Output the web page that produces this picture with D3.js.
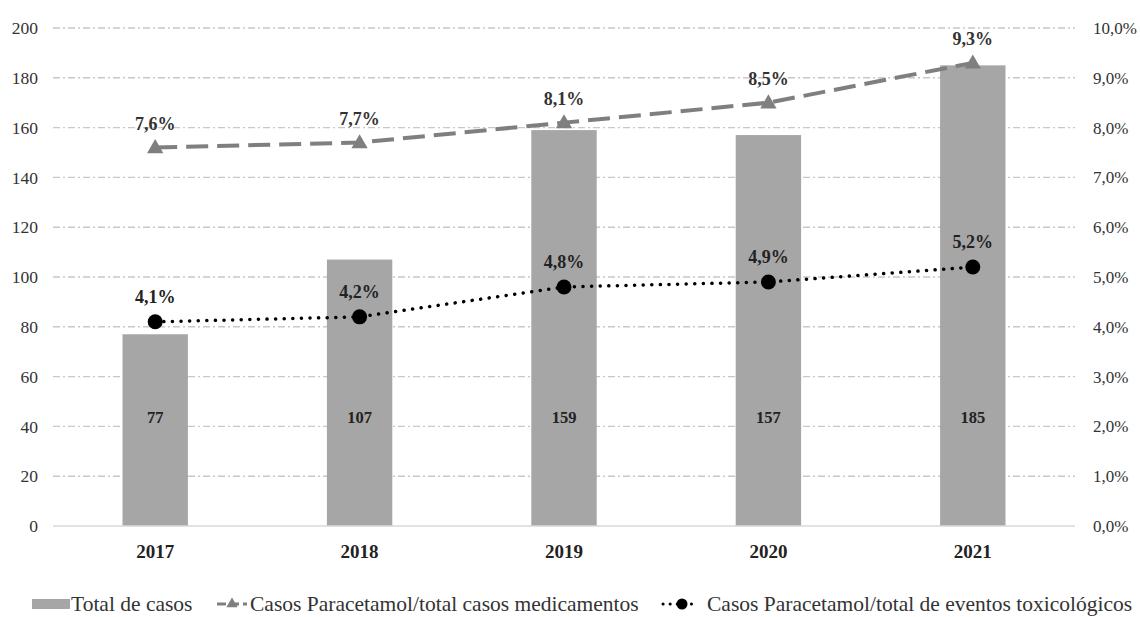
<!DOCTYPE html>
<html>
<head>
<meta charset="utf-8">
<script src="https://cdn.jsdelivr.net/npm/d3@7"></script>
<style>
  html, body { margin: 0; padding: 0; background: #fff; }
  svg { display: block; }
  svg text { font-family: "Liberation Serif", Tinos, "Times New Roman", Times, "DejaVu Serif", serif !important; }
</style>
</head>
<body>
<svg id="chart" width="1140" height="617"></svg>
<script>
// Annual paracetamol poisoning cases and their share of total cases
const years = ["2017", "2018", "2019", "2020", "2021"];
const totalCases = [77, 107, 159, 157, 185];
const shareOfMedicationCases = [7.6, 7.7, 8.1, 8.5, 9.3];   // %
const shareOfToxicEvents = [4.1, 4.2, 4.8, 4.9, 5.2];        // %
const leftTicks = [0, 20, 40, 60, 80, 100, 120, 140, 160, 180, 200];
const rightTicks = [0, 1, 2, 3, 4, 5, 6, 7, 8, 9, 10];
const legendLabels = [
  "Total de casos",
  "Casos Paracetamol/total casos medicamentos",
  "Casos Paracetamol/total de eventos toxicológicos"
];

const svg = d3.select("#chart");
const plot = { left: 53, right: 1075, top: 28, bottom: 526 };

const x = d3.scaleBand().domain(years).range([plot.left, plot.right]).paddingInner(0.68).paddingOuter(0.34);
const yLeft = d3.scaleLinear().domain([0, 200]).range([plot.bottom, plot.top]);
const yRight = d3.scaleLinear().domain([0, 10]).range([plot.bottom, plot.top]);
const cx = d => x(d) + x.bandwidth() / 2;
const fmtPct = v => d3.format(".1f")(v).replace(".", ",") + "%";

// Horizontal gridlines (dash-dot)
svg.append("g")
  .selectAll("line")
  .data(leftTicks.filter(t => t > 0))
  .join("line")
  .attr("x1", plot.left).attr("x2", plot.right)
  .attr("y1", d => yLeft(d)).attr("y2", d => yLeft(d))
  .attr("stroke", "#c8c8c8").attr("stroke-width", 1.4)
  .attr("stroke-dasharray", "7,3,2,3");

// Left axis
const leftAxis = svg.append("g")
  .attr("transform", `translate(${plot.left},0)`)
  .call(d3.axisLeft(yLeft).tickValues(leftTicks).tickSize(0).tickPadding(15));
leftAxis.select(".domain").remove();
leftAxis.selectAll("text").attr("font-size", 17.5).attr("fill", "#333");

// Right axis
const rightAxis = svg.append("g")
  .attr("transform", `translate(${plot.right},0)`)
  .call(d3.axisRight(yRight).tickValues(rightTicks).tickFormat(fmtPct).tickSize(0).tickPadding(18));
rightAxis.select(".domain").remove();
rightAxis.selectAll("text").attr("font-size", 17).attr("fill", "#333");

// Bars
svg.append("g")
  .selectAll("rect")
  .data(years)
  .join("rect")
  .attr("x", d => x(d))
  .attr("width", x.bandwidth())
  .attr("y", (d, i) => yLeft(totalCases[i]))
  .attr("height", (d, i) => yLeft(0) - yLeft(totalCases[i]))
  .attr("fill", "#a6a6a6");

// Baseline
svg.append("line")
  .attr("x1", plot.left).attr("x2", plot.right)
  .attr("y1", plot.bottom).attr("y2", plot.bottom)
  .attr("stroke", "#d9d9d9").attr("stroke-width", 1.5);

// Bar value labels
svg.append("g")
  .selectAll("text")
  .data(years)
  .join("text")
  .attr("x", d => cx(d))
  .attr("y", yLeft(41.5))
  .attr("text-anchor", "middle")
  .attr("font-size", 16.5).attr("font-weight", "bold").attr("fill", "#222")
  .text((d, i) => totalCases[i]);

// Year labels
svg.append("g")
  .selectAll("text")
  .data(years)
  .join("text")
  .attr("x", d => cx(d))
  .attr("y", 558)
  .attr("text-anchor", "middle")
  .attr("font-size", 19).attr("font-weight", "bold").attr("fill", "#222")
  .text(d => d);

const line = d3.line().x(d => cx(d[0])).y(d => yRight(d[1]));

// Dashed series with triangles
const medPts = years.map((y, i) => [y, shareOfMedicationCases[i]]);
svg.append("path")
  .attr("d", line(medPts))
  .attr("fill", "none").attr("stroke", "#7f7f7f").attr("stroke-width", 4)
  .attr("stroke-dasharray", "22,9");
const tri = d3.symbol().type(d3.symbolTriangle).size(115);
svg.append("g")
  .selectAll("path")
  .data(medPts)
  .join("path")
  .attr("d", tri)
  .attr("transform", d => `translate(${cx(d[0])},${yRight(d[1]) + 1})`)
  .attr("fill", "#7f7f7f");
svg.append("g")
  .selectAll("text")
  .data(medPts)
  .join("text")
  .attr("x", d => cx(d[0]))
  .attr("y", d => yRight(d[1]) - 18)
  .attr("text-anchor", "middle")
  .attr("font-size", 18).attr("font-weight", "bold").attr("fill", "#333")
  .text(d => fmtPct(d[1]));

// Dotted series with circles
const toxPts = years.map((y, i) => [y, shareOfToxicEvents[i]]);
svg.append("path")
  .attr("d", line(toxPts))
  .attr("fill", "none").attr("stroke", "#000").attr("stroke-width", 3.5)
  .attr("stroke-linecap", "round")
  .attr("stroke-dasharray", "0.1,8.5");
svg.append("g")
  .selectAll("circle")
  .data(toxPts)
  .join("circle")
  .attr("cx", d => cx(d[0]))
  .attr("cy", d => yRight(d[1]))
  .attr("r", 7.5)
  .attr("fill", "#000");
svg.append("g")
  .selectAll("text")
  .data(toxPts)
  .join("text")
  .attr("x", d => cx(d[0]))
  .attr("y", d => yRight(d[1]) - 19)
  .attr("text-anchor", "middle")
  .attr("font-size", 18).attr("font-weight", "bold").attr("fill", "#222")
  .text(d => fmtPct(d[1]));

// Legend
const legend = svg.append("g").attr("font-size", 21.5).attr("fill", "#333");
const ly = 604;
legend.append("rect").attr("x", 32).attr("y", ly - 5).attr("width", 38).attr("height", 10).attr("fill", "#a6a6a6");
legend.append("text").attr("x", 71).attr("y", ly + 7).text(legendLabels[0]);

legend.append("line").attr("x1", 217).attr("x2", 247).attr("y1", ly).attr("y2", ly)
  .attr("stroke", "#7f7f7f").attr("stroke-width", 3).attr("stroke-dasharray", "9,4");
legend.append("path").attr("d", d3.symbol().type(d3.symbolTriangle).size(55))
  .attr("transform", `translate(232,${ly})`).attr("fill", "#7f7f7f");
legend.append("text").attr("x", 250).attr("y", ly + 7).text(legendLabels[1]);

legend.append("line").attr("x1", 663).attr("x2", 698).attr("y1", ly).attr("y2", ly)
  .attr("stroke", "#000").attr("stroke-width", 3).attr("stroke-linecap", "round")
  .attr("stroke-dasharray", "0.1,7");
legend.append("circle").attr("cx", 682).attr("cy", ly).attr("r", 5.5).attr("fill", "#000");
legend.append("text").attr("x", 707).attr("y", ly + 7).text(legendLabels[2]);
</script>
</body>
</html>
